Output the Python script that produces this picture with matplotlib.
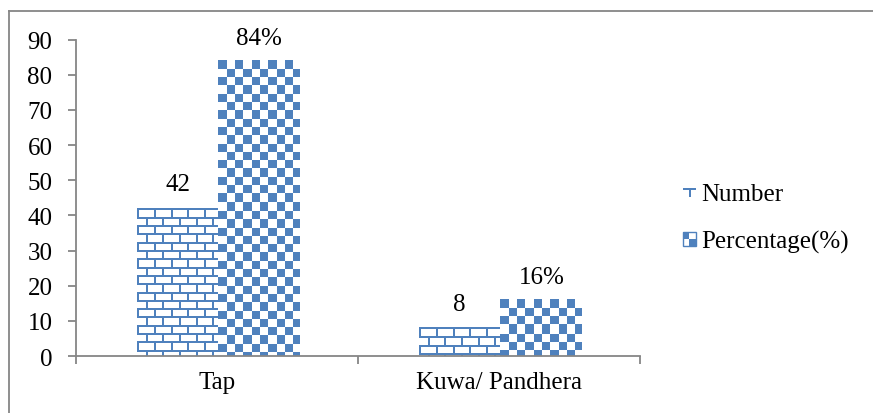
import numpy as np
import matplotlib
matplotlib.use("Agg")
import matplotlib.pyplot as plt
from matplotlib.patches import Rectangle
from matplotlib.lines import Line2D
from matplotlib.legend_handler import HandlerBase

# data
categories = ["Tap", "Kuwa/ Pandhera"]
number = [42, 8]
percentage = [84, 16]
pct_labels = ["84%", "16%"]
series_names = ["Number", "Percentage(%)"]

BLUE = "#4F81BD"
GRAY = "#868686"
DPI = 100

plt.rcParams["font.family"] = ["Liberation Serif", "DejaVu Serif"]
plt.rcParams["font.size"] = 18

fig = plt.figure(figsize=(873 / DPI, 414 / DPI), dpi=DPI)
ax = fig.add_axes([76 / 873, 1 - 357 / 414, (640 - 76) / 873, (357 - 40.7) / 414])

x = np.arange(len(categories))
w = 0.29
ax.set_xlim(-0.5, len(categories) - 0.5)
ax.set_ylim(0, 90)

bars_n = ax.bar(x - w / 2 + 0.005, number, w, facecolor="none", edgecolor="none")
bars_p = ax.bar(x + w / 2 + 0.005, percentage, w, facecolor="none", edgecolor="none")


def checker(xx, yy, c=8.3):
    return ((xx // c) + (yy // c)) % 2 == 0


def brick(xx, yy, c=8.3, lw=2.0):
    row = yy // c
    horiz = (yy % c) < lw
    shift = (row % 2) * c
    vert = ((xx + shift) % (2 * c)) < lw
    return horiz | vert


def fill_pattern(bars, pattern):
    # paint a pixel pattern inside each bar
    for b in bars:
        x0, y0 = b.get_x(), b.get_y()
        x1, y1 = x0 + b.get_width(), y0 + b.get_height()
        p0 = ax.transData.transform((x0, y0))
        p1 = ax.transData.transform((x1, y1))
        wpx = max(int(round(p1[0] - p0[0])), 1)
        hpx = max(int(round(p1[1] - p0[1])), 1)
        yy, xx = np.mgrid[0:hpx, 0:wpx].astype(float)
        # pattern counted from bar top, like the reference
        mask = pattern(xx, (hpx - 1 - yy))
        img = np.ones((hpx, wpx, 4))
        rgb = matplotlib.colors.to_rgb(BLUE)
        img[mask, 0], img[mask, 1], img[mask, 2] = rgb
        ax.imshow(img, extent=(x0, x1, y0, y1), origin="lower",
                  aspect="auto", interpolation="nearest", zorder=2)


fill_pattern(bars_n, brick)
fill_pattern(bars_p, checker)
ax.set_xlim(-0.5, len(categories) - 0.5)
ax.set_ylim(0, 90)

for b, v in zip(bars_n, number):
    ax.annotate(str(v), (b.get_x() + b.get_width() / 2, v), xytext=(0, 13),
                textcoords="offset points", ha="center", va="baseline")
for b, v, t in zip(bars_p, percentage, pct_labels):
    ax.annotate(t, (b.get_x() + b.get_width() / 2, v), xytext=(0, 12),
                textcoords="offset points", ha="center", va="baseline")

for s in ["top", "right"]:
    ax.spines[s].set_visible(False)
for s in ["left", "bottom"]:
    ax.spines[s].set_color(GRAY)
    ax.spines[s].set_linewidth(1.3)

ax.set_yticks(np.arange(0, 91, 10))
ax.tick_params(axis="y", direction="out", length=6, width=1.3, color=GRAY, pad=11)
ax.set_xticks(x)
ax.set_xticklabels(categories)
ax.tick_params(axis="x", which="major", length=0, pad=11)
ax.set_xticks(np.arange(-0.5, len(categories), 1.0), minor=True)
ax.tick_params(axis="x", which="minor", direction="out", length=6, width=1.3, color=GRAY)


class PatternHandler(HandlerBase):
    def __init__(self, kind):
        super().__init__()
        self.kind = kind

    def create_artists(self, legend, orig_handle, xdescent, ydescent, width, height, fontsize, trans):
        s = min(width, height)
        x0 = -xdescent + (width - s) / 2
        y0 = -ydescent + (height - s) / 2
        arts = []
        if self.kind == "brick":
            arts.append(Rectangle((x0, y0 + s * 0.6), s, s * 0.15, fc=BLUE, ec="none", transform=trans))
            arts.append(Rectangle((x0 + s * 0.5, y0 + s * 0.05), s * 0.15, s * 0.6, fc=BLUE, ec="none", transform=trans))
        else:
            arts.append(Rectangle((x0, y0), s, s, fc="white", ec=BLUE, lw=1, transform=trans))
            arts.append(Rectangle((x0, y0 + s / 2), s / 2, s / 2, fc=BLUE, ec="none", transform=trans))
            arts.append(Rectangle((x0 + s / 2, y0), s / 2, s / 2, fc=BLUE, ec="none", transform=trans))
        return arts


h1 = Rectangle((0, 0), 1, 1)
h2 = Rectangle((0, 0), 1, 1)
fig.legend([h1, h2], series_names, loc="center left",
           bbox_to_anchor=(670 / 873, 1 - 219 / 414), frameon=False,
           handlelength=0.55, handleheight=0.55, handletextpad=0.2,
           labelspacing=1.0, borderpad=0,
           handler_map={h1: PatternHandler("brick"), h2: PatternHandler("checker")})

# outer frame: only top and left edges fall inside the image
fig.add_artist(Line2D([9 / 873, 1], [1 - 12 / 414, 1 - 12 / 414], transform=fig.transFigure,
                      color=GRAY, lw=1.3))
fig.add_artist(Line2D([9 / 873, 9 / 873], [0, 1 - 12 / 414], transform=fig.transFigure,
                      color=GRAY, lw=1.3))

fig.savefig("out.png", dpi=DPI)
